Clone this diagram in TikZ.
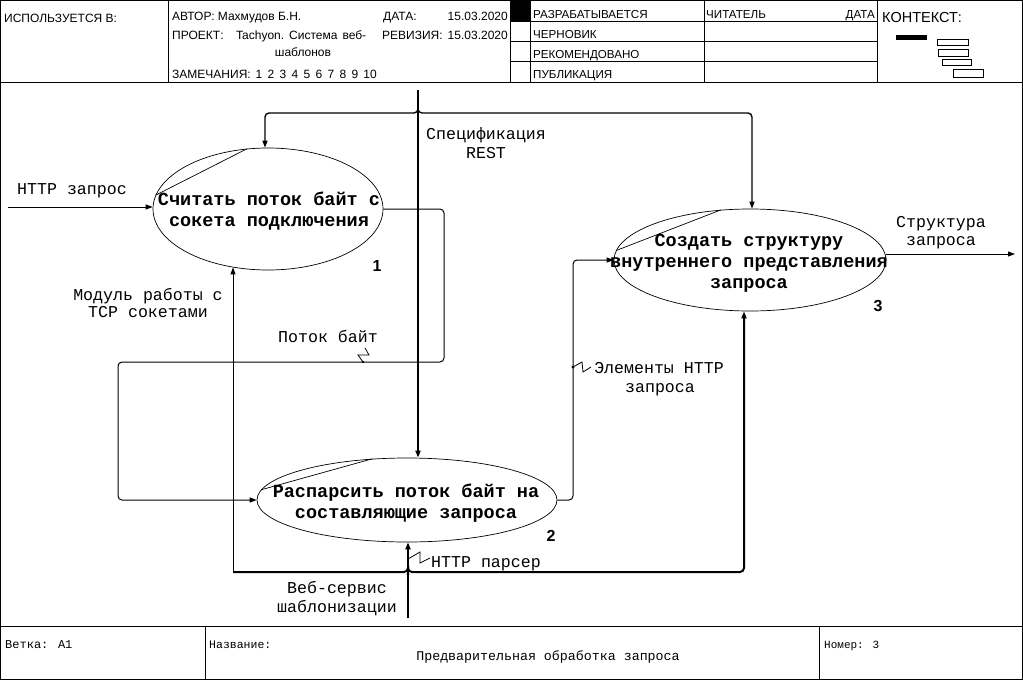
\documentclass[tikz,border=0pt]{standalone}
\usepackage{fontspec}
\setmainfont{Liberation Sans}
\newfontfamily\monof{Liberation Mono}
\usetikzlibrary{arrows.meta,shapes.geometric}

\begin{document}
\begin{tikzpicture}[x=1pt,y=-1pt,
  >={Triangle[length=7pt,width=5pt]},
  frame/.style={line width=1pt},
  proc/.style={draw, ellipse, line width=0.7pt, inner sep=0pt},
  chord/.style={line width=0.7pt},
  ptext/.style={font=\monof\bfseries\fontsize{18.5}{21}\selectfont, align=center, inner sep=0pt, anchor=base},
  lbl/.style={font=\monof\fontsize{16.6}{19}\selectfont, inner sep=0pt, anchor=base},
  hdr/.style={font=\fontsize{12}{14}\selectfont, inner sep=0pt, anchor=base west},
  hdrs/.style={font=\fontsize{11.6}{13}\selectfont, inner sep=0pt, anchor=base west},
  ftr/.style={font=\monof\fontsize{12}{14}\selectfont, inner sep=0pt, anchor=base west},
  num/.style={font=\bfseries\fontsize{16}{18}\selectfont, inner sep=0pt, anchor=base},
  flow/.style={line width=1pt},
  branch/.style={line width=1.4pt},
  main/.style={line width=2pt},
  bolt/.style={line width=0.8pt}
]
\useasboundingbox (0,0) rectangle (1023,680);

% ---------- frame, header and footer grid ----------
\draw[frame] (0.5,0.5) rectangle (1022.5,679.5);
\draw[frame] (0,82) -- (1023,82);
\draw[frame] (0,626) -- (1023,626);
\draw[frame] (168,0) -- (168,82);
\draw[frame] (510,0) -- (510,82);
\draw[frame] (530,0) -- (530,82);
\draw[frame] (704,0) -- (704,82);
\draw[frame] (877,0) -- (877,82);
\foreach \yy in {21,41.5,61.5} \draw[frame] (510,\yy) -- (877,\yy);
\fill (511,1) rectangle (530,21);
\draw[frame] (205,626) -- (205,679);
\draw[frame] (819,626) -- (819,679);

% header texts
\node[hdr] (used) at (4,22) {ИСПОЛЬЗУЕТСЯ В:};
\node[hdr] (author) at (172,20) {АВТОР: Махмудов Б.Н.};
\node[hdr] (date) at (383,20) {ДАТА:};
\node[hdr, anchor=base east] (dateval) at (508,20) {15.03.2020};
\node[hdr] (project) at (172,39.5) {ПРОЕКТ:};
\node[hdr] (projname) at (236,39.5) {Tachyon.\hspace{5pt}Система\hspace{5pt}веб-};
\node[hdr, anchor=base] (projname2) at (303,56.5) {шаблонов};
\node[hdr] (rev) at (382,39.5) {РЕВИЗИЯ:};
\node[hdr, anchor=base east] (revval) at (508,39.5) {15.03.2020};
\node[hdr] (notes) at (172,78) {ЗАМЕЧАНИЯ:\hspace{5pt}1\hspace{5.3pt}2\hspace{5.3pt}3\hspace{5.3pt}4\hspace{5.3pt}5\hspace{5.3pt}6\hspace{5.3pt}7\hspace{5.3pt}8\hspace{5.3pt}9\hspace{5.3pt}10};
\node[hdrs] (st1) at (533,18.5) {РАЗРАБАТЫВАЕТСЯ};
\node[hdrs] (st2) at (533,38.5) {ЧЕРНОВИК};
\node[hdrs] (st3) at (533,58) {РЕКОМЕНДОВАНО};
\node[hdrs] (st4) at (533,78) {ПУБЛИКАЦИЯ};
\node[hdrs] (reader) at (706,18.5) {ЧИТАТЕЛЬ};
\node[hdrs, anchor=base east] (rdate) at (875,18.5) {ДАТА};
\node[hdr, font=\fontsize{14.5}{16}\selectfont] (context) at (882,23) {КОНТЕКСТ:};

% context miniature
\fill (896,35) rectangle (927,40);
\draw[line width=1pt] (937,39) rectangle (968,45);
\draw[line width=1pt] (938,49) rectangle (968,56);
\draw[line width=1pt] (942,59) rectangle (971,65);
\draw[line width=1pt] (953,69) rectangle (983,77);

% footer texts
\node[ftr] (branchlbl) at (5,648) {Ветка: A1};
\node[ftr, font=\monof\fontsize{11.5}{14}\selectfont] (namelbl) at (209,648) {Название:};
\node[ftr, anchor=base, font=\monof\fontsize{13.3}{15}\selectfont] (title) at (548,660) {Предварительная обработка запроса};
\node[ftr, font=\monof\fontsize{11}{14}\selectfont] (numlbl) at (824,648) {Номер: 3};

% ---------- processes ----------
\node[proc, minimum width=230pt, minimum height=122pt] (p1) at (268,209) {};
\node[proc, minimum width=300pt, minimum height=84pt] (p2) at (407,500) {};
\node[proc, minimum width=272pt, minimum height=102pt] (p3) at (750,260) {};
\draw[chord] (p1.109) -- (p1.173);
\draw[chord] (p2.130) -- (p2.176);
\draw[chord] (p3.120) -- (p3.176);

% multi-line text: the base anchor sits on the last line
\node[ptext] (p1t) at (269,226) {Считать поток байт с\\сокета подключения};
\node[ptext] (p2t) at (406,518) {Распарсить поток байт на\\составляющие запроса};
\node[ptext] (p3t) at (749,288) {Создать структуру\\внутреннего представления\\запроса};

\node[num] (n1) at (377,271) {1};
\node[num] (n2) at (551,541) {2};
\node[num] (n3) at (878,311) {3};

% ---------- input and output ----------
\coordinate (in1) at (8,207);
\draw[flow,->] (in1) -- (in1 -| p1.west);
\node[lbl] (in1t) at (72,194) {HTTP запрос};

\coordinate (out3) at (1015,254);
\draw[flow,->] (out3 -| p3.east) -- (out3);
\node[lbl] (out3a) at (941,227) {Структура};
\node[lbl] (out3b) at (941,245) {запроса};

% ---------- internal flows ----------
\coordinate (f12a) at (444,362);
\coordinate (f12b) at (118,430);
\draw[flow,->,rounded corners=4pt] (p1.east) -| (f12a) -| (f12b) |- (p2.west);
\node[lbl] (f12t) at (328,342) {Поток байт};
\draw[bolt] (363,362) -- (358,355) -- (369,355) -- (365,348);
\fill (363,362) circle (1.4);

\coordinate (f23) at (573,380);
\draw[flow,->,rounded corners=4pt] (p2.east) -| (f23) |- (p3.west);
\node[lbl] (f23a) at (659,373) {Элементы HTTP};
\node[lbl] (f23b) at (660,392) {запроса};
\draw[bolt] (573,367) -- (582,362) -- (583,372) -- (591,367);
\fill (573,367) circle (1.6);

% ---------- control ----------
\coordinate (ctl) at (418,90);
\coordinate (ctlj) at (418,106);
\coordinate (ctll) at (265,113);
\coordinate (ctlr) at (752,113);
\draw[main,->] (ctl) -- (ctl |- p2.north);
\draw[branch,->,rounded corners=4pt] (ctlj) |- (ctll) -- (ctll |- p1.north);
\draw[branch,->,rounded corners=4pt] (ctlj) |- (ctlr) -- (ctlr |- p3.north);
\node[lbl] (ctla) at (486,139) {Спецификация};
\node[lbl] (ctlb) at (486,158) {REST};

% ---------- mechanisms ----------
\coordinate (mech) at (408,618);
\coordinate (mechj) at (408,566);
\coordinate (mechl) at (233,572);
\coordinate (mechr) at (744,572);
\draw[main,->] (mech) -- (mech |- p2.south);
\draw[flow,->,rounded corners=4pt] (mechl) -- (mechl |- p1.239);
\draw[main,rounded corners=4pt] (mechj) |- (mechl);
\draw[main,->,rounded corners=4pt] (mechj) |- (mechr) -- (mechr |- p3.south);
\fill (408,574) circle (1.6);
\node[lbl] (mecha) at (337,593) {Веб-сервис};
\node[lbl] (mechb) at (337,612) {шаблонизации};
\node[lbl, anchor=base west] (mechp) at (431,567) {HTTP парсер};
\draw[bolt] (408,559) -- (420,552) -- (420,563) -- (430,558);
\node[lbl] (mechm1) at (148,300) {Модуль работы с};
\node[lbl] (mechm2) at (148,317) {TCP сокетами};

\end{tikzpicture}
\end{document}
